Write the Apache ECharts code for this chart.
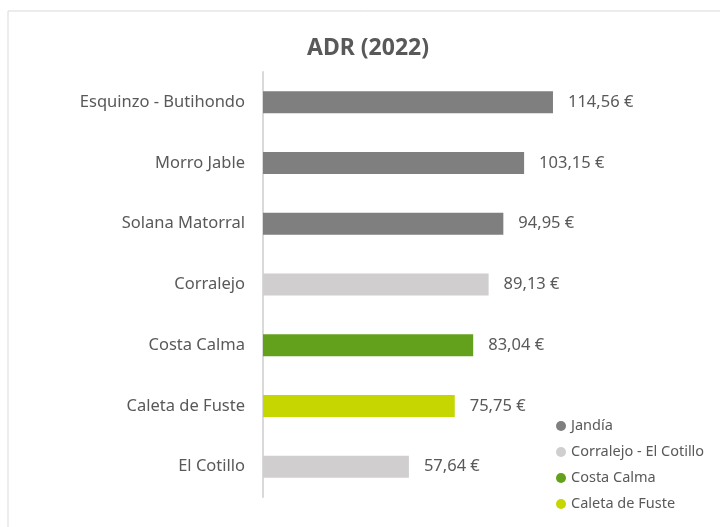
<!DOCTYPE html>
<html lang="es">
<head>
    <meta charset="UTF-8">
    <title>ADR (2022)</title>
    <script src="https://cdn.jsdelivr.net/npm/echarts@6/dist/echarts.min.js"></script>
</head>
<body style="margin:0">
<div id="pic1" style="width: 720px;height:527px;"></div>
<script>
    // datos: de arriba a abajo
    var categorias = ['Esquinzo - Butihondo', 'Morro Jable', 'Solana Matorral', 'Corralejo', 'Costa Calma', 'Caleta de Fuste', 'El Cotillo'];
    var valores = [114.56, 103.15, 94.95, 89.13, 83.04, 75.75, 57.64];
    var zonas = ['Jandía', 'Jandía', 'Jandía', 'Corralejo - El Cotillo', 'Costa Calma', 'Caleta de Fuste', 'Corralejo - El Cotillo'];
    var leyenda = ['Jandía', 'Corralejo - El Cotillo', 'Costa Calma', 'Caleta de Fuste'];
    var colores = ['#7f7f7f', '#d0cece', '#63a11c', '#c5d600'];

    var fuente = 'Noto Sans';
    var myCharts1 = echarts.init(document.getElementById('pic1'));

    // una serie por zona, apiladas para que compartan hueco
    var series = leyenda.map(function (z, i) {
        return {
            name: z,
            type: 'bar',
            stack: 'adr',
            barWidth: 22,
            itemStyle: {color: colores[i]},
            label: {
                show: true,
                position: 'right',
                distance: 15,
                color: '#595959',
                fontFamily: fuente,
                fontSize: 16.5,
                formatter: function (p) {
                    return p.value.toFixed(2).replace('.', ',') + ' €';
                }
            },
            data: valores.map(function (v, k) {
                return zonas[k] === z ? v : '-';
            })
        };
    });

    var option1 = {
        backgroundColor: 'white',
        animation: false,
        title: {
            text: 'ADR (2022)',
            left: 302,
            top: 32,
            textStyle: {color: '#595959', fontFamily: fuente, fontSize: 23, fontWeight: 'bold'}
        },
        graphic: [{
            type: 'rect',
            shape: {x: 8, y: 11, width: 800, height: 600},
            style: {fill: 'none', stroke: '#d9d9d9', lineWidth: 1}
        }],
        legend: {
            data: leyenda,
            orient: 'vertical',
            left: 551,
            top: 413,
            itemGap: 10,
            itemWidth: 10,
            itemHeight: 10,
            icon: 'circle',
            textStyle: {color: '#595959', fontFamily: fuente, fontSize: 14.5, lineHeight: 16}
        },
        grid: {left: 263, top: 72, height: 425, width: 405},
        xAxis: {type: 'value', min: 0, max: 160, show: false},
        yAxis: {
            type: 'category',
            inverse: true,
            data: categorias,
            axisLine: {lineStyle: {color: '#d9d9d9', width: 2}},
            axisTick: {show: false},
            axisLabel: {color: '#595959', fontFamily: fuente, fontSize: 16.5, margin: 18}
        },
        series: series
    };

    myCharts1.setOption(option1, true);
</script>
</body>
</html>
